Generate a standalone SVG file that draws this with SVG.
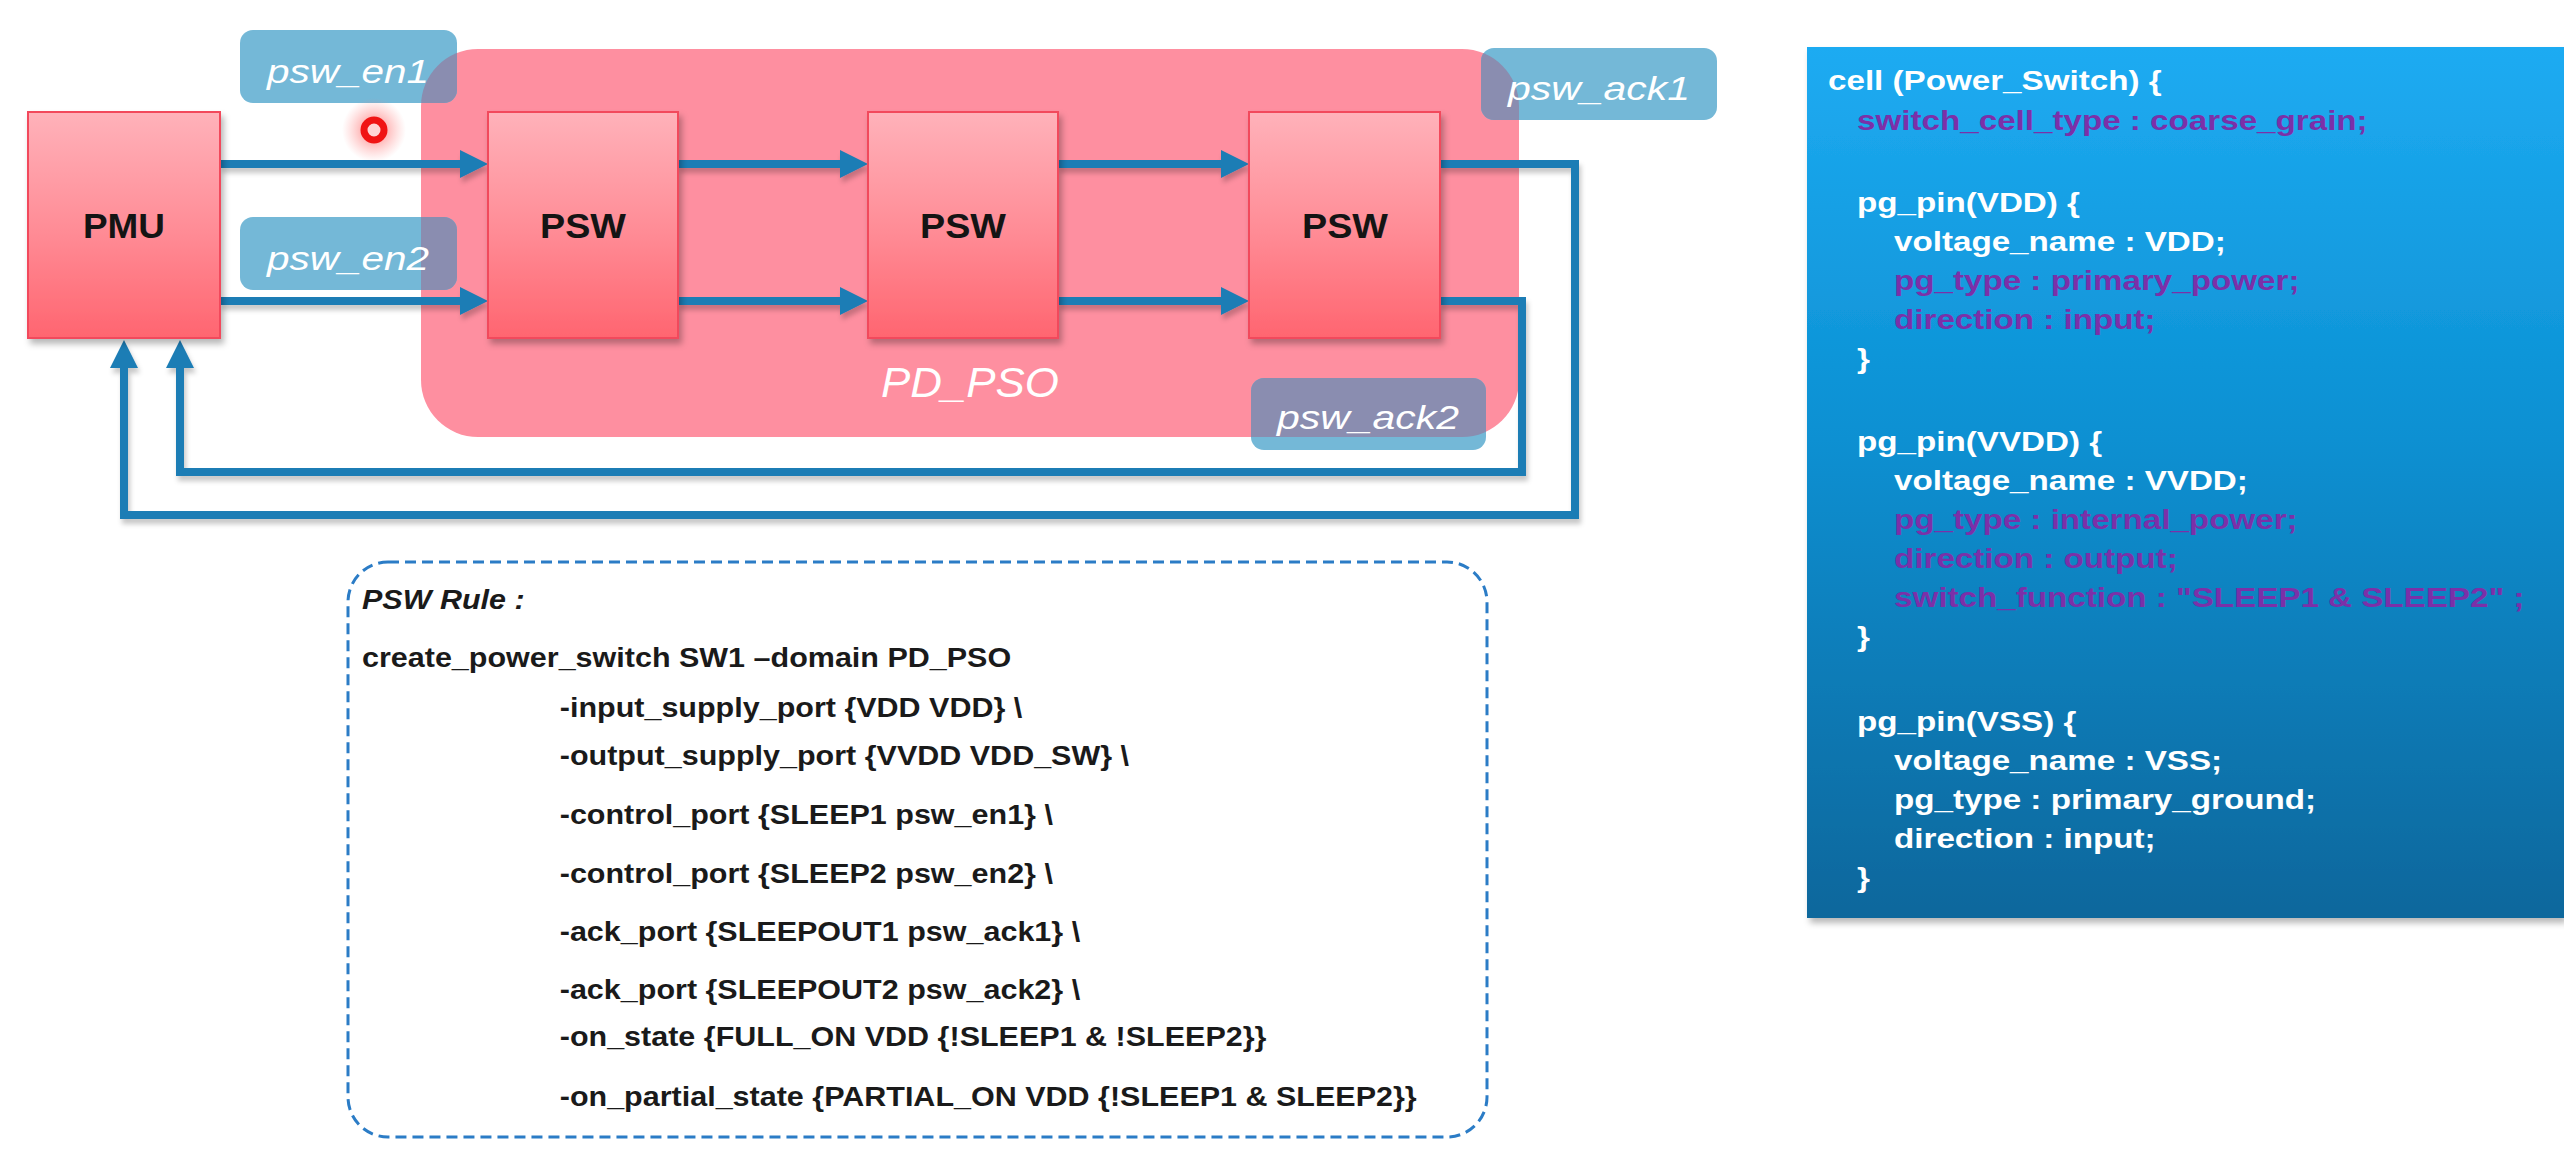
<svg xmlns="http://www.w3.org/2000/svg" width="2564" height="1151" viewBox="0 0 2564 1151">
<defs>
<style>
.box{fill:url(#redGrad);stroke:#f24a5c;stroke-width:2;filter:url(#sh)}
.boxtxt{font-family:"Liberation Sans",Arial,sans-serif;font-weight:bold;font-size:35px;fill:#141414;text-anchor:middle}
.lbl{fill:#74b8d7}
.lblov{fill:#8a8db0}
.lbltxt{font-family:"Liberation Sans",Arial,sans-serif;font-style:italic;font-size:34px;fill:#ffffff;text-anchor:middle}
.wire{fill:none;stroke:#1a7db5;stroke-width:8;stroke-linejoin:miter}
.arr{marker-end:url(#ah)}
.rule{font-family:"Liberation Sans",Arial,sans-serif;font-weight:bold;font-size:27px;fill:#1a1a1a}
.code{font-family:"Liberation Sans",Arial,sans-serif;font-weight:bold;font-size:28px}
.w{fill:#ffffff}
.p{fill:#7b30a8}
</style>
<linearGradient id="redGrad" x1="0" y1="0" x2="0" y2="1">
<stop offset="0" stop-color="#ffb2ba"/>
<stop offset="0.55" stop-color="#ff8a94"/>
<stop offset="1" stop-color="#ff6570"/>
</linearGradient>
<linearGradient id="panelGrad" x1="0" y1="0" x2="0" y2="1">
<stop offset="0" stop-color="#1eabf2"/>
<stop offset="0.45" stop-color="#0c90d2"/>
<stop offset="1" stop-color="#0b679c"/>
</linearGradient>
<radialGradient id="glow">
<stop offset="0" stop-color="#ff3030" stop-opacity="0.7"/>
<stop offset="0.5" stop-color="#ff6060" stop-opacity="0.35"/>
<stop offset="1" stop-color="#ff8080" stop-opacity="0"/>
</radialGradient>
<filter id="sh" x="-20%" y="-20%" width="140%" height="140%">
<feDropShadow dx="3" dy="5" stdDeviation="3" flood-color="#000" flood-opacity="0.28"/>
</filter>
<filter id="wsh" x="-5%" y="-5%" width="110%" height="110%">
<feDropShadow dx="2" dy="5" stdDeviation="2.5" flood-color="#000" flood-opacity="0.22"/>
</filter>
<marker id="ah" markerUnits="userSpaceOnUse" markerWidth="30" markerHeight="30" refX="8" refY="14" orient="auto">
<path d="M0,0 L28,14 L0,28 Z" fill="#1a7db5"/>
</marker>
<clipPath id="pdClip">
<rect x="421" y="49" width="1098" height="388" rx="57" ry="57"/>
</clipPath>
</defs>

<rect width="2564" height="1151" fill="#ffffff"/>

<g id="PD_PSO">
<rect x="421" y="49" width="1098" height="388" rx="57" ry="57" fill="#fe8fa0"/>
<text x="970" y="397" font-family="Liberation Sans, Arial, sans-serif" font-style="italic" font-size="42" fill="#ffffff" text-anchor="middle" textLength="178" lengthAdjust="spacingAndGlyphs">PD_PSO</text>
</g>

<g id="labels">
<g id="lbl_psw_en1">
<rect class="lbl" x="240" y="30" width="217" height="73" rx="13"/>
<rect class="lblov" x="240" y="30" width="217" height="73" rx="13" clip-path="url(#pdClip)"/>
<text class="lbltxt" x="348" y="83" textLength="162" lengthAdjust="spacingAndGlyphs">psw_en1</text>
</g>
<g id="lbl_psw_en2">
<rect class="lbl" x="240" y="217" width="217" height="73" rx="13"/>
<rect class="lblov" x="240" y="217" width="217" height="73" rx="13" clip-path="url(#pdClip)"/>
<text class="lbltxt" x="348" y="270" textLength="162" lengthAdjust="spacingAndGlyphs">psw_en2</text>
</g>
<g id="lbl_psw_ack1">
<rect class="lbl" x="1481" y="48" width="236" height="72" rx="13"/>
<rect class="lblov" x="1481" y="48" width="236" height="72" rx="13" clip-path="url(#pdClip)"/>
<text class="lbltxt" x="1599" y="100" textLength="182" lengthAdjust="spacingAndGlyphs">psw_ack1</text>
</g>
<g id="lbl_psw_ack2">
<rect class="lbl" x="1251" y="378" width="235" height="72" rx="13"/>
<rect class="lblov" x="1251" y="378" width="235" height="72" rx="13" clip-path="url(#pdClip)"/>
<text class="lbltxt" x="1368" y="429" textLength="182" lengthAdjust="spacingAndGlyphs">psw_ack2</text>
</g>
</g>

<g id="connectors" filter="url(#wsh)">
<path class="wire arr" d="M220,164 H468"/>
<path class="wire arr" d="M220,301 H468"/>
<path class="wire arr" d="M678,164 H848"/>
<path class="wire arr" d="M678,301 H848"/>
<path class="wire arr" d="M1058,164 H1229"/>
<path class="wire arr" d="M1058,301 H1229"/>
<path class="wire arr" d="M1440,164 H1575 V515 H124 V360"/>
<path class="wire arr" d="M1440,301 H1522 V472 H180 V360"/>
</g>

<g id="PMU">
<rect class="box" x="28" y="112" width="192" height="226"/>
<text class="boxtxt" x="124" y="238" textLength="82" lengthAdjust="spacingAndGlyphs">PMU</text>
</g>
<g id="PSW1">
<rect class="box" x="488" y="112" width="190" height="226"/>
<text class="boxtxt" x="583" y="238" textLength="86" lengthAdjust="spacingAndGlyphs">PSW</text>
</g>
<g id="PSW2">
<rect class="box" x="868" y="112" width="190" height="226"/>
<text class="boxtxt" x="963" y="238" textLength="86" lengthAdjust="spacingAndGlyphs">PSW</text>
</g>
<g id="PSW3">
<rect class="box" x="1249" y="112" width="191" height="226"/>
<text class="boxtxt" x="1345" y="238" textLength="86" lengthAdjust="spacingAndGlyphs">PSW</text>
</g>

<g id="pointer">
<circle cx="374" cy="130" r="32" fill="url(#glow)"/>
<circle cx="374" cy="130" r="10" fill="#ffd6d6" stroke="#f01414" stroke-width="7"/>
</g>

<g id="psw_rule">
<rect x="348" y="562" width="1139" height="575" rx="40" ry="40" fill="none" stroke="#2b7cc6" stroke-width="3" stroke-dasharray="11 6"/>
<g transform="translate(362,0) scale(1.13,1)">
<text class="rule" x="0" y="609" font-style="italic">PSW Rule :</text>
<text class="rule" x="0" y="667">create_power_switch SW1 –domain PD_PSO</text>
<text class="rule" x="175" y="717">-input_supply_port {VDD VDD} \</text>
<text class="rule" x="175" y="765">-output_supply_port {VVDD VDD_SW} \</text>
<text class="rule" x="175" y="824">-control_port {SLEEP1 psw_en1} \</text>
<text class="rule" x="175" y="883">-control_port {SLEEP2 psw_en2} \</text>
<text class="rule" x="175" y="941">-ack_port {SLEEPOUT1 psw_ack1} \</text>
<text class="rule" x="175" y="999">-ack_port {SLEEPOUT2 psw_ack2} \</text>
<text class="rule" x="175" y="1046">-on_state {FULL_ON VDD {!SLEEP1 &amp; !SLEEP2}}</text>
<text class="rule" x="175" y="1106">-on_partial_state {PARTIAL_ON VDD {!SLEEP1 &amp; SLEEP2}}</text>
</g>
</g>

<g id="cell_panel">
<rect x="1807" y="47" width="757" height="871" fill="url(#panelGrad)" filter="url(#sh)"/>
<g transform="translate(1828,0) scale(1.185,1)">
<text class="code w" x="0" y="90">cell (Power_Switch) {</text>
<text class="code p" x="24.5" y="130">switch_cell_type : coarse_grain;</text>
<text class="code w" x="24.5" y="212">pg_pin(VDD) {</text>
<text class="code w" x="55.7" y="251">voltage_name : VDD;</text>
<text class="code p" x="55.7" y="290">pg_type : primary_power;</text>
<text class="code p" x="55.7" y="329">direction : input;</text>
<text class="code w" x="24.5" y="368">}</text>
<text class="code w" x="24.5" y="451">pg_pin(VVDD) {</text>
<text class="code w" x="55.7" y="490">voltage_name : VVDD;</text>
<text class="code p" x="55.7" y="529">pg_type : internal_power;</text>
<text class="code p" x="55.7" y="568">direction : output;</text>
<text class="code p" x="55.7" y="607">switch_function : "SLEEP1 &amp; SLEEP2" ;</text>
<text class="code w" x="24.5" y="646">}</text>
<text class="code w" x="24.5" y="731">pg_pin(VSS) {</text>
<text class="code w" x="55.7" y="770">voltage_name : VSS;</text>
<text class="code w" x="55.7" y="809">pg_type : primary_ground;</text>
<text class="code w" x="55.7" y="848">direction : input;</text>
<text class="code w" x="24.5" y="887">}</text>
</g>
</g>
</svg>
